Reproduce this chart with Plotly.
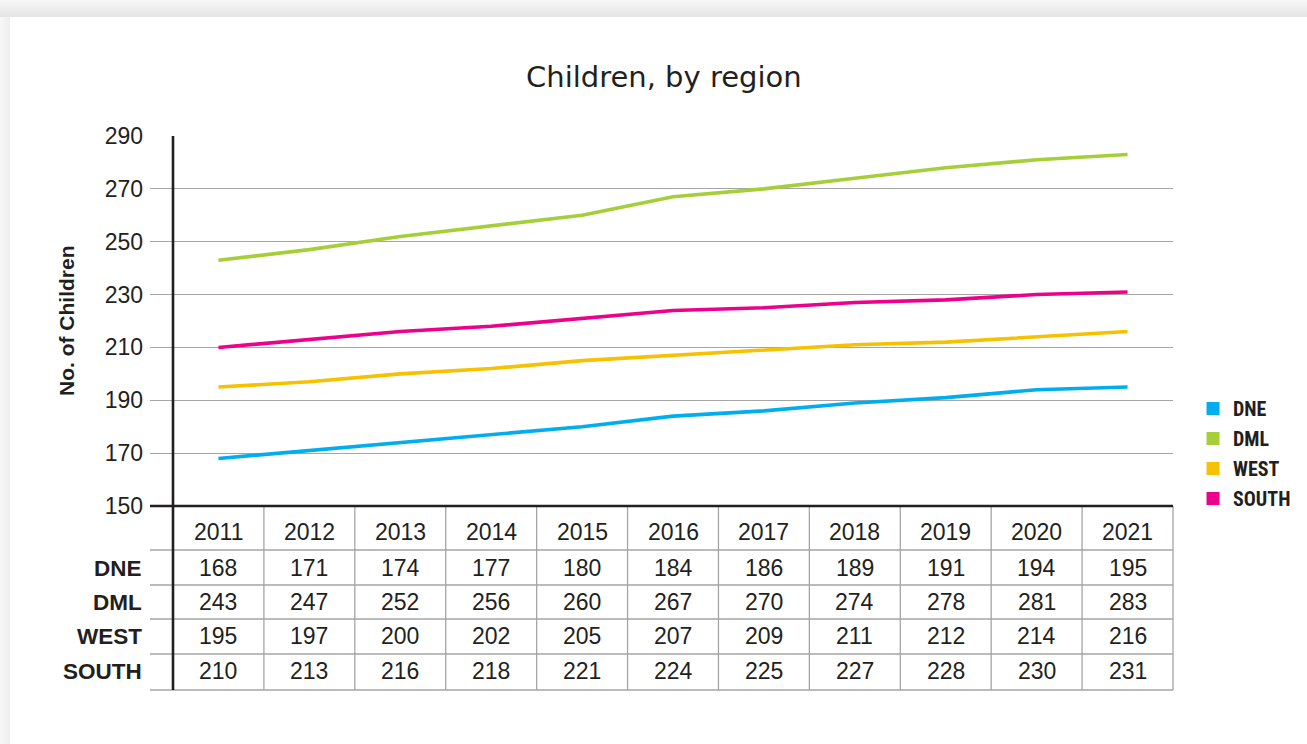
import plotly.graph_objects as go

# ---- data -------------------------------------------------------------
years = ["2011", "2012", "2013", "2014", "2015", "2016", "2017", "2018", "2019", "2020", "2021"]
regions = ["DNE", "DML", "WEST", "SOUTH"]
dne = [168, 171, 174, 177, 180, 184, 186, 189, 191, 194, 195]
dml = [243, 247, 252, 256, 260, 267, 270, 274, 278, 281, 283]
west = [195, 197, 200, 202, 205, 207, 209, 211, 212, 214, 216]
south = [210, 213, 216, 218, 221, 224, 225, 227, 228, 230, 231]
series = [dne, dml, west, south]
colors = ["#00AEEF", "#A6CE39", "#F5C100", "#EC008C"]
y_ticks = [150, 170, 190, 210, 230, 250, 270, 290]

# ---- layout geometry (pixels) ----------------------------------------
W, H = 1307, 744
AX_X = 173            # vertical axis / first column edge
PLOT_R = 1173         # right edge of grid and table
GRID_L = 150          # gridlines start a little left of the axis
PLOT_T, PLOT_B = 136, 506
TABLE_B = 690
n = len(years)
cw = (PLOT_R - AX_X) / n
x_left = -0.5 - (AX_X - GRID_L) / cw
x_right = n - 0.5

INK = "#231F20"
GRID = "#A5A5A5"
FONT = "Liberation Sans, Arial, sans-serif"


def px(x):
    return x / W


def py(y):
    return 1 - y / H


fig = go.Figure()
xs = list(range(n))
for name, vals, col in zip(regions, series, colors):
    fig.add_trace(go.Scatter(
        x=xs, y=vals, mode="lines", name=name,
        line=dict(color=col, width=3.6), showlegend=False,
        hoverinfo="x+y+name",
    ))
# legend entries drawn as coloured squares
for i, (name, col) in enumerate(zip(regions, colors)):
    fig.add_trace(go.Scatter(
        x=[None], y=[None], mode="markers", name=name,
        marker=dict(symbol="square", size=13, color=col),
        legendgroup=f"g{i}", showlegend=True,
    ))

shapes = []
# soft shadow around the white card
for k in range(17):
    c = int(247 - k * 1.1)
    shapes.append(dict(type="rect", xref="paper", yref="paper", layer="below",
                       x0=0, x1=1, y0=py(k + 1), y1=py(k),
                       fillcolor=f"rgb({c},{c},{c})", line=dict(width=0)))
for k in range(10):
    c = int(247 - k * 0.9)
    shapes.append(dict(type="rect", xref="paper", yref="paper", layer="below",
                       x0=px(k), x1=px(k + 1), y0=0, y1=py(17),
                       fillcolor=f"rgb({c},{c},{c})", line=dict(width=0)))

# table grid: horizontal rules under each row
for yy in [550, 585, 619, 654, TABLE_B]:
    shapes.append(dict(type="line", xref="paper", yref="paper",
                       x0=px(GRID_L), x1=px(PLOT_R), y0=py(yy), y1=py(yy),
                       line=dict(color=GRID, width=1.3)))
# column separators
for k in range(1, n + 1):
    xx = AX_X + k * cw
    shapes.append(dict(type="line", xref="paper", yref="paper",
                       x0=px(xx), x1=px(xx), y0=py(PLOT_B), y1=py(TABLE_B),
                       line=dict(color=GRID, width=1.3)))
# baseline (150) and vertical axis
shapes.append(dict(type="line", xref="paper", yref="paper",
                   x0=px(GRID_L), x1=px(PLOT_R), y0=py(PLOT_B), y1=py(PLOT_B),
                   line=dict(color=INK, width=2.6)))
shapes.append(dict(type="line", xref="paper", yref="paper",
                   x0=px(AX_X), x1=px(AX_X), y0=py(PLOT_T), y1=py(TABLE_B),
                   line=dict(color=INK, width=2.6)))

annotations = []
# header row: years
row_y = {"hdr": 532, "DNE": 568, "DML": 602, "WEST": 636, "SOUTH": 671}
for i, yr in enumerate(years):
    annotations.append(dict(x=i, y=py(row_y["hdr"]), xref="x", yref="paper",
                            text=yr, showarrow=False, xanchor="center", yanchor="middle",
                            font=dict(family=FONT, size=23, color=INK)))
# value rows
for name, vals in zip(regions, series):
    annotations.append(dict(x=px(144), y=py(row_y[name]), xref="paper", yref="paper",
                            text=f"<b>{name}</b>", showarrow=False,
                            xanchor="right", yanchor="middle",
                            font=dict(family=FONT, size=22.5, color=INK)))
    for i, v in enumerate(vals):
        annotations.append(dict(x=i, y=py(row_y[name]), xref="x", yref="paper",
                                text=str(v), showarrow=False,
                                xanchor="center", yanchor="middle",
                                font=dict(family=FONT, size=23, color=INK)))
# y-axis title
annotations.append(dict(x=px(67), y=py(321), xref="paper", yref="paper",
                        text="<b>No. of Children</b>", textangle=-90, showarrow=False,
                        xanchor="center", yanchor="middle",
                        font=dict(family=FONT, size=21, color=INK)))
# chart title
annotations.append(dict(x=px(664), y=py(77), xref="paper", yref="paper",
                        text="Children, by region", showarrow=False,
                        xanchor="center", yanchor="middle",
                        font=dict(family="DejaVu Sans, Open Sans, sans-serif", size=29, color=INK)))

fig.update_layout(
    width=W, height=H,
    margin=dict(l=0, r=0, t=0, b=0, autoexpand=False),
    paper_bgcolor="white", plot_bgcolor="white",
    showlegend=True,
    legend=dict(
        x=px(1193), y=py(389), xanchor="left", yanchor="top",
        traceorder="grouped", tracegroupgap=1,
        font=dict(family="Liberation Sans Narrow, Roboto Condensed, Arial Narrow, sans-serif",
                  size=20, color=INK, weight="bold"),
        itemwidth=30, bgcolor="rgba(0,0,0,0)",
    ),
    xaxis=dict(
        domain=[px(GRID_L), px(PLOT_R)], range=[x_left, x_right],
        showgrid=False, zeroline=False, showticklabels=False, showline=False,
        fixedrange=True, automargin=False,
    ),
    yaxis=dict(
        domain=[py(PLOT_B), py(PLOT_T)], range=[150, 290],
        tickvals=y_ticks, ticktext=[str(v) for v in y_ticks],
        showgrid=True, gridcolor=GRID, gridwidth=1.3,
        zeroline=False, showline=False, ticks="",
        ticklabelstandoff=6, automargin=False,
        tickfont=dict(family=FONT, size=23, color=INK),
        fixedrange=True,
    ),
    shapes=shapes,
    annotations=annotations,
)

fig.write_html("out.html")
